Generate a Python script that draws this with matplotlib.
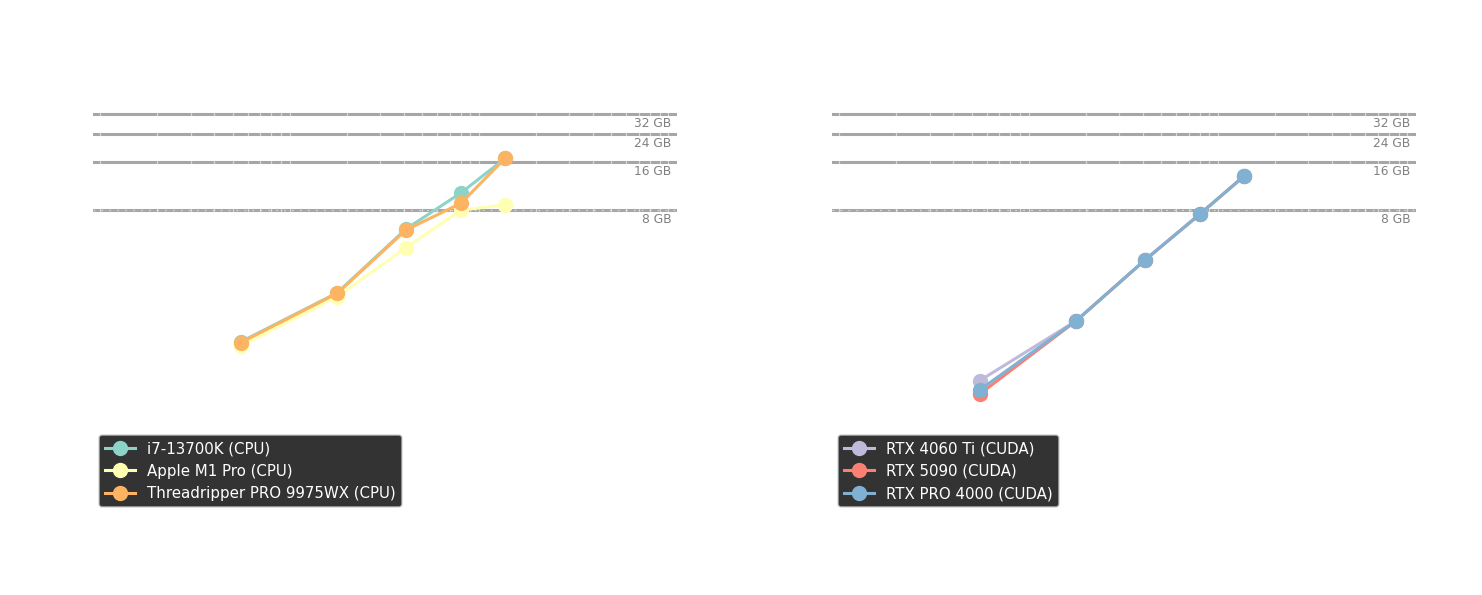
import matplotlib
matplotlib.use("Agg")
import matplotlib.pyplot as plt
from matplotlib.ticker import LogLocator

# ---------------- data ----------------
model_size = [0.551, 1.78, 4.11, 8.02, 13.7]          # x values (log scale)

cpu_labels = ["i7-13700K (CPU)", "Apple M1 Pro (CPU)", "Threadripper PRO 9975WX (CPU)"]
cpu_i7 = [1.18, 2.40, 6.05, 10.2, 16.8]               # memory, GB
cpu_m1 = [1.11, 2.27, 4.61, 7.96, 8.57]
cpu_tr = [1.166, 2.38, 5.96, 8.78, 16.8]
cpu_colors = ["#8dd3c7", "#ffffb3", "#fdb462"]

gpu_labels = ["RTX 4060 Ti (CUDA)", "RTX 5090 (CUDA)", "RTX PRO 4000 (CUDA)"]
gpu_4060 = [0.673, 1.60, 3.86, 7.51, 13.0]
gpu_5090 = [0.554, 1.60, 3.86, 7.51, 13.0]
gpu_pro4000 = [0.588, 1.60, 3.86, 7.51, 13.0]
gpu_colors = ["#bebada", "#fb8072", "#80b1d3"]

mem_levels = [8, 16, 24, 32]
mem_labels = ["8 GB", "16 GB", "24 GB", "32 GB"]

# ---------------- figure ----------------
W, H, DPI = 1482, 595, 110
fig = plt.figure(figsize=(W / DPI, H / DPI), dpi=DPI, facecolor="white")

def px_axes(left, right, top, bottom):
    return fig.add_axes([left / W, 1 - bottom / H, (right - left) / W, (bottom - top) / H])

ax_top, ax_bot = 50, 515
axL = px_axes(93, 677, ax_top, ax_bot)
axR = px_axes(832, 1416, ax_top, ax_bot)

xlim = (0.0915, 110.9)
ylim = (0.0962, 80.8)

def style_axes(ax):
    ax.set_xscale("log")
    ax.set_yscale("log")
    ax.set_xlim(*xlim)
    ax.set_ylim(*ylim)
    ax.set_facecolor("none")
    for s in ax.spines.values():
        s.set_visible(False)
    ax.xaxis.set_major_locator(LogLocator(base=10))
    ax.xaxis.set_minor_locator(LogLocator(base=10, subs=range(2, 10)))
    ax.yaxis.set_major_locator(LogLocator(base=10))
    ax.yaxis.set_minor_locator(LogLocator(base=10, subs=range(2, 10)))
    ax.tick_params(which="both", length=0, labelbottom=False, labelleft=False)
    ax.grid(True, which="both", axis="x", color="white", alpha=0.55, lw=0.8, zorder=1.5)
    ax.grid(True, which="both", axis="y", color="white", alpha=0.55, lw=0.8,
            linestyle=(0, (1.5, 5.0)), zorder=1.5)
    ax.set_axisbelow("line")
    for lvl, lab in zip(mem_levels, mem_labels):
        ax.axhline(lvl, color="gray", alpha=0.7, lw=2, zorder=1)
        ax.annotate(lab, xy=(0.99, lvl), xycoords=("axes fraction", "data"),
                    xytext=(0, -2.2), textcoords="offset points",
                    ha="right", va="top", fontsize=8, color="gray")

style_axes(axL)
style_axes(axR)

for ys, c, lab in zip([cpu_i7, cpu_m1, cpu_tr], cpu_colors, cpu_labels):
    axL.plot(model_size, ys, color=c, lw=2, marker="o", ms=9, label=lab, zorder=2)
for ys, c, lab in zip([gpu_4060, gpu_5090, gpu_pro4000], gpu_colors, gpu_labels):
    axR.plot(model_size, ys, color=c, lw=2, marker="o", ms=9, label=lab, zorder=2)

def add_legend(ax, left_px):
    leg = ax.legend(loc="lower left", bbox_to_anchor=(left_px / W, (H - 507) / H),
                    bbox_transform=fig.transFigure, borderaxespad=0,
                    fontsize=9.8, facecolor="black", edgecolor="0.8", framealpha=0.8,
                    labelcolor="white")
    return leg

add_legend(axL, 99)
add_legend(axR, 838)

fig.savefig("out.png", dpi=DPI, facecolor="white")
